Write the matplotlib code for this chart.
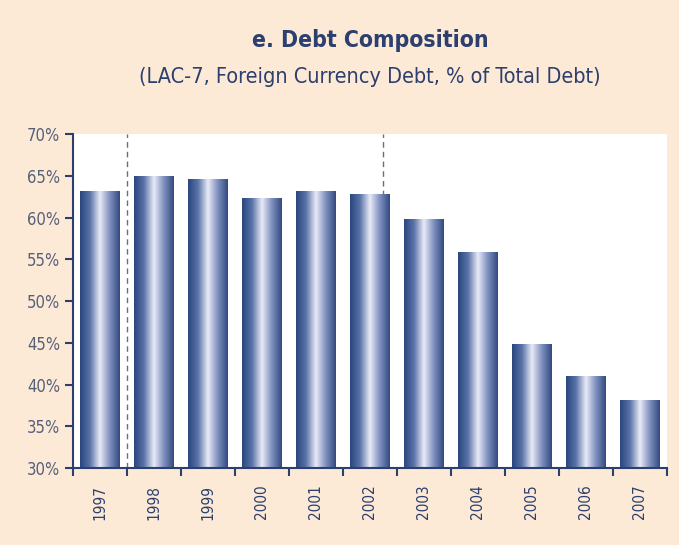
import numpy as np
import matplotlib
matplotlib.use("Agg")
import matplotlib.pyplot as plt
from matplotlib.colors import LinearSegmentedColormap

# ==== Données
years = ["1997", "1998", "1999", "2000", "2001", "2002",
         "2003", "2004", "2005", "2006", "2007"]
foreign_share = [63.2, 65.0, 64.6, 62.3, 63.2, 62.8, 59.8, 55.9, 44.9, 41.0, 38.2]
yticks = [30, 35, 40, 45, 50, 55, 60, 65, 70]
dashed_at = [0.5, 5.25]   # repères verticaux

# ==== Style
plt.rcParams["font.family"] = ["DejaVu Sans"]
plt.rcParams["font.stretch"] = "condensed"

BG = "#fcead7"
NAVY = "#2c3f6e"
TICKC = "#56607a"
bar_cmap = LinearSegmentedColormap.from_list(
    "barre", ["#2a4680", "#5a73a8", "#e9eaf6", "#7d8fbf", "#33497f"])

fig = plt.figure(figsize=(6.79, 5.45), dpi=100, facecolor=BG)
ax = fig.add_axes([0.1075, 0.1413, 0.8745, 0.6127])
ax.set_facecolor("white")

x = np.arange(len(years))
bars = ax.bar(x, foreign_share, width=0.74, bottom=0, color="none",
              edgecolor="none", zorder=2)
grad = np.linspace(0, 1, 256).reshape(1, -1)
for b in bars:
    x0, w, h = b.get_x(), b.get_width(), b.get_height()
    im = ax.imshow(grad, cmap=bar_cmap, aspect="auto",
                   extent=[x0, x0 + w, 30, h], zorder=2)
    im.set_clip_path(b)

for xd in dashed_at:
    ax.axvline(xd, color="#6a6f80", lw=1.0, ls=(0, (4, 3)), zorder=1)

ax.set_xlim(-0.5, len(years) - 0.5)
ax.set_ylim(30, 70)
ax.set_yticks(yticks)
ax.set_yticklabels([f"{v}%" for v in yticks], fontsize=12, color=TICKC)
ax.set_xticks(x)
ax.set_xticklabels(years, rotation=90, fontsize=11, color=NAVY)
ax.tick_params(axis="x", length=0, pad=12)
ax.set_xticks(np.arange(-0.5, len(years)), minor=True)
ax.tick_params(axis="x", which="minor", length=6, width=1.5, color=NAVY, direction="out")
ax.tick_params(axis="y", length=6, width=1.5, color=NAVY, direction="out", pad=3)

for s in ["top", "right"]:
    ax.spines[s].set_visible(False)
for s in ["left", "bottom"]:
    ax.spines[s].set_color(NAVY)
    ax.spines[s].set_linewidth(1.5)

fig.text(0.545, 0.925, "e. Debt Composition", ha="center", va="center",
         fontsize=16.5, fontweight="bold", color=NAVY)
fig.text(0.545, 0.858, "(LAC-7, Foreign Currency Debt, % of Total Debt)",
         ha="center", va="center", fontsize=15.5, color=NAVY)

fig.savefig("out.png", dpi=100, facecolor=BG)
